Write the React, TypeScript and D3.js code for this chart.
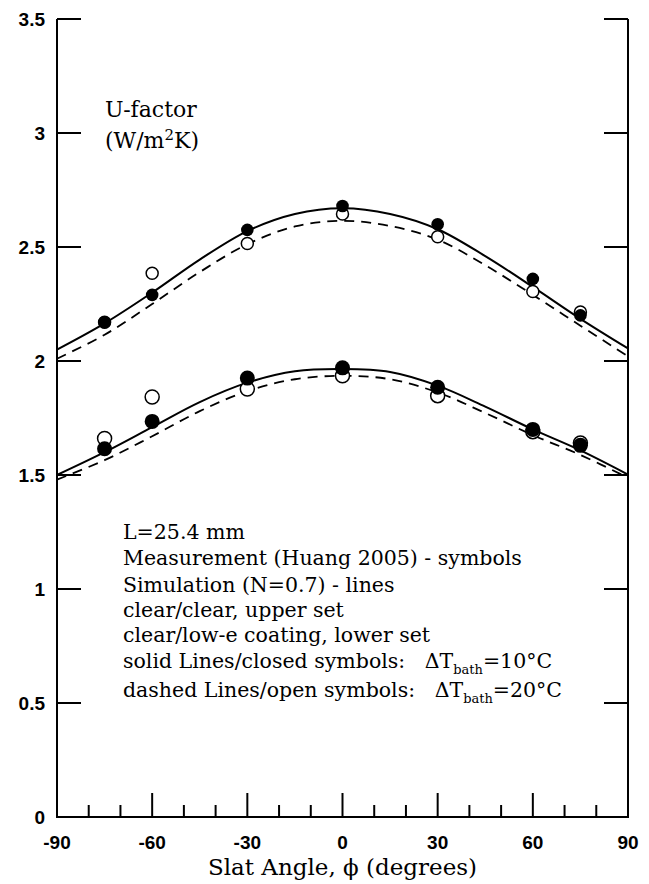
import React from "react";
import * as d3 from "d3";

const angles = [-75, -60, -30, 0, 30, 60, 75];
const upperClosed = [2.17, 2.29, 2.575, 2.68, 2.6, 2.36, 2.2];
const upperOpen = [2.17, 2.385, 2.515, 2.645, 2.545, 2.305, 2.215];
const lowerClosed = [1.615, 1.735, 1.925, 1.97, 1.885, 1.7, 1.63];
const lowerOpen = [1.66, 1.842, 1.877, 1.935, 1.848, 1.69, 1.64];

const lineAngles = [-90, -75, -60, -45, -30, -15, 0, 15, 30, 45, 60, 75, 90];
const upperSolid = [2.05, 2.165, 2.3, 2.445, 2.57, 2.645, 2.67, 2.645, 2.578, 2.46, 2.325, 2.185, 2.055];
const upperDashed = [2.01, 2.115, 2.25, 2.39, 2.512, 2.59, 2.615, 2.592, 2.532, 2.42, 2.29, 2.155, 2.02];
const lowerSolid = [1.5, 1.6, 1.71, 1.82, 1.905, 1.955, 1.965, 1.952, 1.892, 1.8, 1.7, 1.608, 1.502];
const lowerDashed = [1.48, 1.565, 1.67, 1.78, 1.868, 1.92, 1.935, 1.92, 1.862, 1.772, 1.675, 1.588, 1.488];

const xMajor = [-90, -60, -30, 0, 30, 60, 90];
const xMinor = [-80, -70, -50, -40, -20, -10, 10, 20, 40, 50, 70, 80];
const yTicks = [0, 0.5, 1, 1.5, 2, 2.5, 3, 3.5];
const yTickLabels = ["0", "0.5", "1", "1.5", "2", "2.5", "3", "3.5"];

const legendLines = [
  "L=25.4 mm",
  "Measurement (Huang 2005) - symbols",
  "Simulation (N=0.7) - lines",
  "clear/clear, upper set",
  "clear/low-e coating, lower set",
];
const legendBaselines = [539, 565, 592, 617, 642];

export default function App() {
  const W = 649, H = 884;
  const x = d3.scaleLinear().domain([-90, 90]).range([57, 628]);
  const y = d3.scaleLinear().domain([0, 3.5]).range([817, 19]);
  const line = d3
    .line<number>()
    .x((_, i) => x(lineAngles[i]))
    .y((d) => y(d))
    .curve(d3.curveCatmullRom.alpha(0.5));

  const serif = "'DejaVu Serif', serif";
  const sans = "'Liberation Sans', Arial, sans-serif";

  return (
    <svg width={W} height={H} style={{ position: "absolute", left: 0, top: 0, background: "#fff" }}>
      <rect width={W} height={H} fill="#fff" />
      {/* axes */}
      <path d={`M${x(-90)},${y(3.5)}V${y(0)}H${x(90)}V${y(3.5)}`} fill="none" stroke="#000" strokeWidth={2} />
      {yTicks.map((t) => (
        <g key={"yt" + t}>
          <line x1={x(-90)} x2={x(-90) + 24} y1={y(t)} y2={y(t)} stroke="#000" strokeWidth={2} />
          <line x1={x(90)} x2={x(90) - 24} y1={y(t)} y2={y(t)} stroke="#000" strokeWidth={2} />
        </g>
      ))}
      {xMajor.map((t) => (
        <line key={"xm" + t} x1={x(t)} x2={x(t)} y1={y(0)} y2={y(0) - 24} stroke="#000" strokeWidth={2} />
      ))}
      {xMinor.map((t) => (
        <line key={"xn" + t} x1={x(t)} x2={x(t)} y1={y(0)} y2={y(0) - 12} stroke="#000" strokeWidth={2} />
      ))}
      {yTicks.map((t, i) => (
        <text key={"yl" + t} x={45} y={y(t)} dy="0.36em" textAnchor="end" fontFamily={sans} fontSize={19} fontWeight="bold" fill="#000">
          {yTickLabels[i]}
        </text>
      ))}
      {xMajor.map((t) => (
        <text key={"xl" + t} x={x(t)} y={849} textAnchor="middle" fontFamily={sans} fontSize={19} fontWeight="bold" fill="#000">
          {t}
        </text>
      ))}
      <text x={x(0)} y={875} textAnchor="middle" fontFamily={serif} fontSize={23} fill="#000">
        Slat Angle, ϕ (degrees)
      </text>
      <text x={105} y={117} fontFamily={serif} fontSize={22} fill="#000">U-factor</text>
      <text x={105} y={148} fontFamily={serif} fontSize={22} fill="#000">
        (W/m<tspan fontSize={15} dy={-8}>2</tspan><tspan dy={8}>K)</tspan>
      </text>

      {/* lines */}
      <path d={line(upperSolid) || ""} fill="none" stroke="#000" strokeWidth={2} />
      <path d={line(lowerSolid) || ""} fill="none" stroke="#000" strokeWidth={2} />
      <path d={line(upperDashed) || ""} fill="none" stroke="#000" strokeWidth={1.8} strokeDasharray="10,7" />
      <path d={line(lowerDashed) || ""} fill="none" stroke="#000" strokeWidth={1.8} strokeDasharray="10,7" />

      {/* symbols */}
      {angles.map((a, i) => (
        <circle key={"uo" + a} cx={x(a)} cy={y(upperOpen[i])} r={6} fill="#fff" stroke="#000" strokeWidth={1.5} />
      ))}
      {angles.map((a, i) => (
        <circle key={"uc" + a} cx={x(a)} cy={y(upperClosed[i])} r={6.3} fill="#000" />
      ))}
      {angles.map((a, i) => (
        <circle key={"lo" + a} cx={x(a)} cy={y(lowerOpen[i])} r={7} fill="#fff" stroke="#000" strokeWidth={1.5} />
      ))}
      {angles.map((a, i) => (
        <circle key={"lc" + a} cx={x(a)} cy={y(lowerClosed[i])} r={7.5} fill="#000" />
      ))}

      {/* legend text */}
      {legendLines.map((s, i) => (
        <text key={"lg" + i} x={123} y={legendBaselines[i]} fontFamily={serif} fontSize={20.5} fill="#000">{s}</text>
      ))}
      <text x={123} y={668} fontFamily={serif} fontSize={20.5} fill="#000">
        solid Lines/closed symbols:{"\u00a0\u00a0\u00a0"}ΔT<tspan fontSize={13} dy={6}>bath</tspan><tspan dy={-6}>=10°C</tspan>
      </text>
      <text x={123} y={697} fontFamily={serif} fontSize={20.5} fill="#000">
        dashed Lines/open symbols:{"\u00a0\u00a0\u00a0"}ΔT<tspan fontSize={13} dy={6}>bath</tspan><tspan dy={-6}>=20°C</tspan>
      </text>
    </svg>
  );
}
